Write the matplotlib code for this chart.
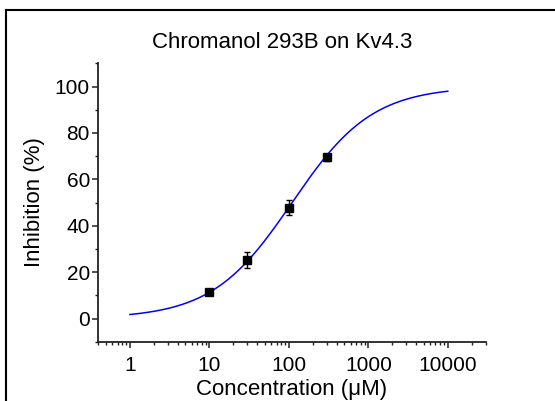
import numpy as np
import matplotlib
matplotlib.use("Agg")
import matplotlib.pyplot as plt
from matplotlib.lines import Line2D

plt.rcParams['font.family'] = ['Liberation Sans', 'DejaVu Sans']

# Data
conc = [10, 30, 100, 300]
inhibition = [11.5, 25.2, 47.8, 69.6]
errors = [1.2, 3.3, 3.2, 1.5]

# Hill fit parameters
fit_bottom = 0.0
fit_top = 100.0
ic50 = 110.0
hill_n = 0.86
fit_range = [1, 10000]

xticks = [1, 10, 100, 1000, 10000]
xticklabels = ["1", "10", "100", "1000", "10000"]
yticks = [0, 20, 40, 60, 80, 100]

fig = plt.figure(figsize=(5.55, 4.01), dpi=100)
ax = fig.add_axes([98.3/555, 1-341.7/401, (485.7-98.3)/555, (341.7-63.3)/401])

xf = np.logspace(np.log10(fit_range[0]), np.log10(fit_range[1]), 300)
yf = fit_bottom + (fit_top - fit_bottom) / (1 + (ic50 / xf) ** hill_n)
ax.plot(xf, yf, color='#0000ff', lw=1.1, zorder=2)

ax.errorbar(conc, inhibition, yerr=errors, fmt='s', color='black', ms=6.2,
            ecolor='black', elinewidth=1.0, capsize=2.5, capthick=1.0, zorder=3)

ax.set_xscale('log')
ax.set_xlim(0.4, 30000)
ax.set_ylim(-10, 110)
ax.set_xticks(xticks)
ax.set_xticklabels(xticklabels)
ax.set_yticks(yticks)
ax.set_yticks([-10, 10, 30, 50, 70, 90, 110], minor=True)
ax.xaxis.set_minor_locator(matplotlib.ticker.LogLocator(base=10, subs=np.arange(2, 10)))
ax.xaxis.set_minor_formatter(matplotlib.ticker.NullFormatter())

for s in ['top', 'right']:
    ax.spines[s].set_visible(False)
for s in ['left', 'bottom']:
    ax.spines[s].set_linewidth(1.3)
    ax.spines[s].set_color('#222222')
ax.tick_params(which='major', direction='out', length=4, width=1.1, labelsize=15, color='#222222', pad=2)
ax.tick_params(which='minor', direction='out', length=2.5, width=1.0, color='#222222')
ax.tick_params(axis='x', which='major', pad=6.5)

ax.set_xlabel('Concentration (μM)', fontsize=16, labelpad=2.5)
ax.set_ylabel('Inhibition (%)', fontsize=16, labelpad=7)
fig.text(282/555, 1-42/401, 'Chromanol 293B on Kv4.3', ha='center', va='center', fontsize=16)

# Figure frame (left and top visible)
fig.add_artist(Line2D([6/555, 6/555], [0, 1-10/401], color='black', lw=1.5, transform=fig.transFigure))
fig.add_artist(Line2D([6/555, 1], [1-10/401, 1-10/401], color='black', lw=1.5, transform=fig.transFigure))

fig.savefig('out.png', dpi=100)
